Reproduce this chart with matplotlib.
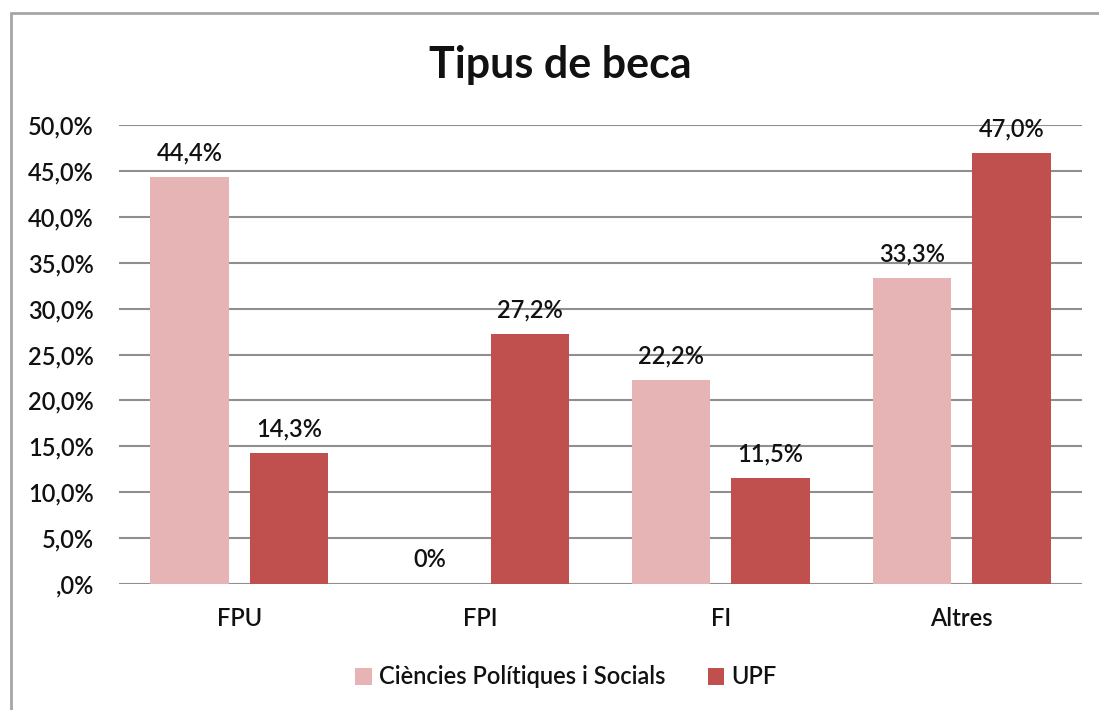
import matplotlib
matplotlib.use("Agg")
import matplotlib.pyplot as plt
from matplotlib.patches import Rectangle, Patch
import numpy as np

plt.rcParams["font.family"] = ["Lato", "DejaVu Sans"]

categories = ["FPU", "FPI", "FI", "Altres"]
series_names = ["Ciències Polítiques i Socials", "UPF"]
ciencies = [44.4, 0.0, 22.2, 33.3]
upf = [14.3, 27.2, 11.5, 47.0]
ciencies_labels = ["44,4%", "0%", "22,2%", "33,3%"]
upf_labels = ["14,3%", "27,2%", "11,5%", "47,0%"]
yticks = [0, 5, 10, 15, 20, 25, 30, 35, 40, 45, 50]
ytick_labels = [",0%", "5,0%", "10,0%", "15,0%", "20,0%", "25,0%",
                "30,0%", "35,0%", "40,0%", "45,0%", "50,0%"]

PINK = "#E6B4B4"
RED = "#C0504D"
GRID = "#8f8f8f"
TEXT = "#111111"
FS = 17

fig = plt.figure(figsize=(10.99, 7.10), dpi=100)
fig.patch.set_facecolor("white")

# chart frame, cropped on the right and bottom
fig.patches.append(Rectangle((11 / 1099, -0.05), 1.2, 1 - 13 / 710 + 0.05,
                             transform=fig.transFigure, fill=False,
                             edgecolor="#a6a6a6", linewidth=2.0))

ax = fig.add_axes([119 / 1099, 1 - 583.7 / 710, (1082 - 119) / 1099, (583.7 - 125.3) / 710])

x = np.arange(len(categories))
w = 0.326
off = 0.207
b1 = ax.bar(x - off, ciencies, w, color=PINK, zorder=3, label=series_names[0])
b2 = ax.bar(x + off, upf, w, color=RED, zorder=3, label=series_names[1])

for bars, labels in [(b1, ciencies_labels), (b2, upf_labels)]:
    for rect, lab in zip(bars, labels):
        ax.annotate(lab, (rect.get_x() + rect.get_width() / 2, rect.get_height()),
                    xytext=(0, 9), textcoords="offset points", ha="center", va="bottom",
                    fontsize=FS, fontweight="semibold", color=TEXT, zorder=4)

ax.set_xlim(-0.5, len(categories) - 0.5)
ax.set_ylim(0, 50)
ax.set_yticks(yticks)
ax.set_yticklabels(ytick_labels, fontweight="semibold")
ax.set_xticks(x)
ax.set_xticklabels(categories, fontweight="semibold")
ax.tick_params(axis="y", length=0, pad=18, labelsize=FS, labelcolor=TEXT)
ax.tick_params(axis="x", length=0, pad=17, labelsize=FS, labelcolor=TEXT)
for s in ax.spines.values():
    s.set_visible(False)
ax.yaxis.grid(True, color=GRID, linewidth=1.5, zorder=0)
ax.set_axisbelow(True)

fig.text(0.51, 1 - 65 / 710, "Tipus de beca", ha="center", va="center",
         fontsize=31, fontweight="bold", color="#111111")

handles = [Patch(facecolor=PINK), Patch(facecolor=RED)]
fig.legend(handles, series_names, loc="center", bbox_to_anchor=(0.515, 1 - 677 / 710),
           ncol=2, frameon=False, handlelength=0.7, handleheight=0.7,
           handletextpad=0.3, columnspacing=1.8,
           prop={"size": FS, "weight": "semibold"}, labelcolor=TEXT)

fig.savefig("out.png", dpi=100)
